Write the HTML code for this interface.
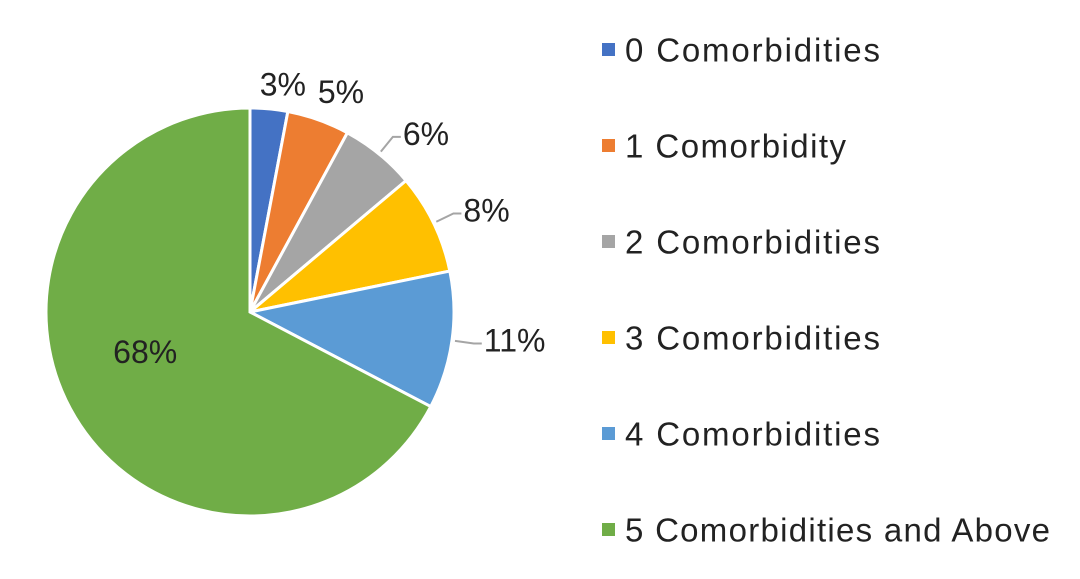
<!DOCTYPE html>
<html><head><meta charset="utf-8"><style>
body{margin:0;background:#fff;}
svg{display:block;font-family:"Liberation Sans",Arial,sans-serif;}
</style></head><body>
<svg id="chart" width="1080" height="579" viewBox="0 0 1080 579">
<g id="slices"></g>
<g id="labels"></g>
<g id="legend"></g>
</svg>
<script>
const categories=["0 Comorbidities","1 Comorbidity","2 Comorbidities","3 Comorbidities","4 Comorbidities","5 Comorbidities and Above"];
const values=[3,5,6,8,11,68];
const valueLabels=["3%","5%","6%","8%","11%","68%"];
const colors=["#4472c4","#ed7d31","#a5a5a5","#ffc000","#5b9bd5","#70ad47"];
const NS="http://www.w3.org/2000/svg";
const cx=250,cy=312,r=204;
const total=values.reduce((a,b)=>a+b,0);
function pt(a,rad){return [cx+rad*Math.sin(a),cy-rad*Math.cos(a)];}
const sG=document.getElementById('slices'),lG=document.getElementById('labels'),gG=document.getElementById('legend');
let a0=0;
values.forEach((v,i)=>{
  const a1=a0+v/total*2*Math.PI;
  const p0=pt(a0,r),p1=pt(a1,r);
  const large=(a1-a0)>Math.PI?1:0;
  const p=document.createElementNS(NS,'path');
  p.setAttribute('d',`M${cx},${cy}L${p0[0]},${p0[1]}A${r},${r} 0 ${large} 1 ${p1[0]},${p1[1]}Z`);
  p.setAttribute('fill',colors[i]);p.setAttribute('stroke','#fff');p.setAttribute('stroke-width','3');
  
  
  sG.appendChild(p);
  const am=(a0+a1)/2;
  const t=document.createElementNS(NS,'text');
  t.setAttribute('font-size','32');t.setAttribute('fill','#222');t.setAttribute('dominant-baseline','central');
  if(i===values.length-1){
    const q=pt(am+0.18,r*0.55);
    t.setAttribute('x',q[0]);t.setAttribute('y',q[1]);t.setAttribute('text-anchor','middle');
  } else if(i>=2){
    const e=pt(am,r+3),m=pt(am,r+22);
    const l=document.createElementNS(NS,'polyline');
    l.setAttribute('points',`${e[0]},${e[1]} ${m[0]},${m[1]} ${m[0]+8},${m[1]}`);
    l.setAttribute('fill','none');l.setAttribute('stroke','#a5a5a5');l.setAttribute('stroke-width','2');
    
    
    lG.appendChild(l);
    t.setAttribute('x',m[0]+10);t.setAttribute('y',m[1]-3);t.setAttribute('text-anchor','start');
  } else {
    const q=pt(am+0.05,r+26+i*8);
    t.setAttribute('x',q[0]);t.setAttribute('y',q[1]);t.setAttribute('text-anchor','middle');
  }
  t.textContent=valueLabels[i];
  
  
  lG.appendChild(t);
  a0=a1;
});
categories.forEach((c,i)=>{
  const y=50+i*96;
  const g=document.createElementNS(NS,'g');
  
  
  const s=document.createElementNS(NS,'rect');
  s.setAttribute('x',602);s.setAttribute('y',y-7);s.setAttribute('width',13);s.setAttribute('height',13);s.setAttribute('fill',colors[i]);
  
  
  const t=document.createElementNS(NS,'text');
  t.setAttribute('x',625);t.setAttribute('y',y);t.setAttribute('font-size','33');t.setAttribute('fill','#222');t.setAttribute('dominant-baseline','central');
  t.setAttribute('textLength', String(Math.round(c.length*17.0)));
  t.textContent=c;
  
  
  g.appendChild(s);g.appendChild(t);gG.appendChild(g);
});
</script>
</body></html>
